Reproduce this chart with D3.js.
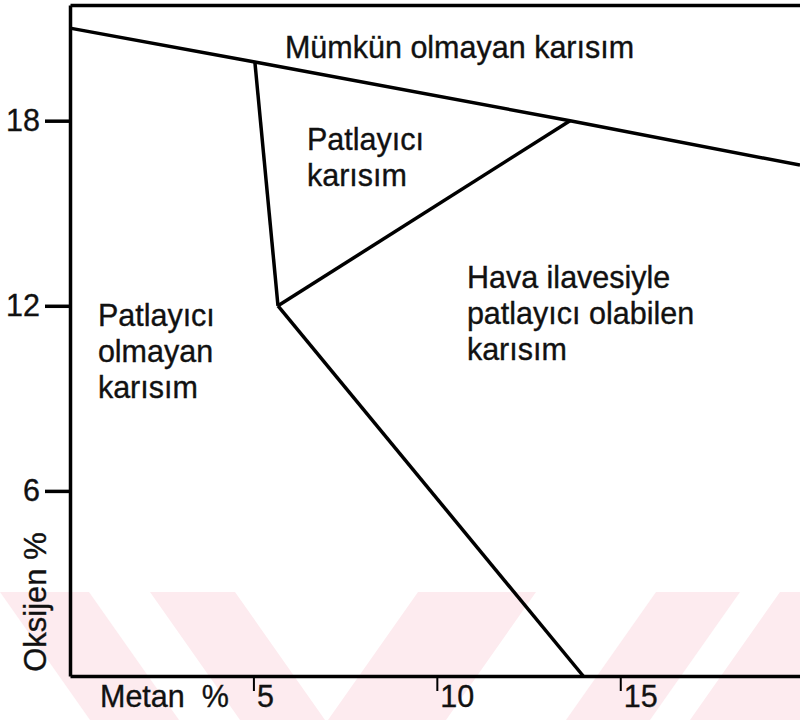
<!DOCTYPE html>
<html>
<head>
<meta charset="utf-8">
<script src="https://cdn.jsdelivr.net/npm/d3@7"></script>
<style>
  body { margin: 0; background: #fff; }
  svg text { font-family: "Liberation Sans", Arial, Helvetica, sans-serif; fill: #111; stroke: #111; stroke-width: 0.35px; }
</style>
</head>
<body>
<script>
// Coward diagram - methane / oxygen explosibility

// boundary lines, methane % and oxygen %
const airLineCH4 = [0, 5.04, 13.63, 19.9];
const airLineO2 = [21.0, 19.9, 18.0, 16.56];
const lowerLimitCH4 = [5.04, 5.67];
const lowerLimitO2 = [19.9, 12.0];
const upperLimitCH4 = [5.67, 13.63];
const upperLimitO2 = [12.0, 18.0];
const noseLineCH4 = [5.67, 13.99];
const noseLineO2 = [12.0, 0];

const yTicks = [6, 12, 18];
const xTicks = [5, 10, 15];

const regionLabels = [
  { lines: ['Mümkün olmayan karısım'], ch4: 5.86, o2: 20.03 },
  { lines: ['Patlayıcı', 'karısım'], ch4: 6.46, o2: 17.05 },
  { lines: ['Hava ilavesiyle', 'patlayıcı olabilen', 'karısım'], ch4: 10.82, o2: 12.58 },
  { lines: ['Patlayıcı', 'olmayan', 'karısım'], ch4: 0.76, o2: 11.35 }
];

const width = 800;
const height = 720;
const margin = { top: 5, right: 0, bottom: 44, left: 70 };
const fontSize = 30.5;

const svg = d3.select('body')
  .append('svg')
  .attr('width', width)
  .attr('height', height);

// faint watermark bands in the lower part of the scan
const bands = [
  [0, 89, 90, 179], [150, 235, 240, 325], [418, 536, 328, 446],
  [656, 740, 566, 650], [780, 830, 690, 800]
];
svg.append('g')
  .selectAll('polygon')
  .data(bands)
  .enter()
  .append('polygon')
  .attr('points', (b) => `${b[0]},592 ${b[1]},592 ${b[3]},720 ${b[2]},720`)
  .attr('fill', '#fdebef');

const x = d3.scaleLinear().domain([0, 19.9]).range([margin.left, width - margin.right]);
const y = d3.scaleLinear().domain([0, 21.75]).range([height - margin.bottom, margin.top]);

const stroke = 3.5;

// top frame
svg.append('g')
  .attr('transform', `translate(0, ${y(21.75)})`)
  .call(d3.axisTop(x).tickValues([]).tickSizeOuter(0))
  .call((g) => g.select('.domain').attr('stroke-width', stroke));

// y axis
const yAxis = svg.append('g')
  .attr('transform', `translate(${x(0)}, 0)`)
  .call(d3.axisLeft(y).tickValues(yTicks).tickSize(25).tickPadding(5).tickSizeOuter(0));
yAxis.select('.domain').attr('stroke-width', stroke);
yAxis.selectAll('.tick line').attr('stroke-width', stroke);
yAxis.selectAll('.tick text')
  .attr('font-size', fontSize)
  .attr('fill', '#111')
  .style('font-family', '"Liberation Sans", Arial, sans-serif');

// x axis, labels sit right of the tick
const xAxis = svg.append('g')
  .attr('transform', `translate(0, ${y(0)})`)
  .call(d3.axisBottom(x).tickValues(xTicks).tickSize(15).tickSizeOuter(0));
xAxis.select('.domain').attr('stroke-width', stroke);
xAxis.selectAll('.tick line').attr('stroke-width', 2);
xAxis.selectAll('.tick text')
  .attr('font-size', fontSize)
  .attr('fill', '#111')
  .attr('text-anchor', 'start')
  .attr('x', 3)
  .attr('y', 31)
  .attr('dy', 0)
  .style('font-family', '"Liberation Sans", Arial, sans-serif');

// axis titles
svg.append('text')
  .attr('x', 100)
  .attr('y', y(0) + 31)
  .attr('font-size', fontSize)
  .attr('xml:space', 'preserve')
  .style('white-space', 'pre')
  .text('Metan  %');

svg.append('text')
  .attr('transform', `translate(46, 602) rotate(-90)`)
  .attr('text-anchor', 'middle')
  .attr('font-size', 31)
  .text('Oksijen %');

// boundary lines
const line = d3.line().x((d) => x(d[0])).y((d) => y(d[1]));
const segments = [
  d3.zip(airLineCH4, airLineO2),
  d3.zip(lowerLimitCH4, lowerLimitO2),
  d3.zip(upperLimitCH4, upperLimitO2),
  d3.zip(noseLineCH4, noseLineO2)
];
svg.append('g')
  .selectAll('path')
  .data(segments)
  .enter()
  .append('path')
  .attr('d', line)
  .attr('fill', 'none')
  .attr('stroke', '#000')
  .attr('stroke-width', stroke)
  .attr('stroke-linejoin', 'round');

// region labels
const labels = svg.append('g')
  .selectAll('text')
  .data(regionLabels)
  .enter()
  .append('text')
  .attr('font-size', fontSize)
  .attr('x', (d) => x(d.ch4))
  .attr('y', (d) => y(d.o2));
labels.selectAll('tspan')
  .data((d) => d.lines.map((t) => ({ t, ch4: d.ch4 })))
  .enter()
  .append('tspan')
  .attr('x', (d) => x(d.ch4))
  .attr('dy', (d, i) => (i === 0 ? 0 : 36))
  .text((d) => d.t);
</script>
</body>
</html>
